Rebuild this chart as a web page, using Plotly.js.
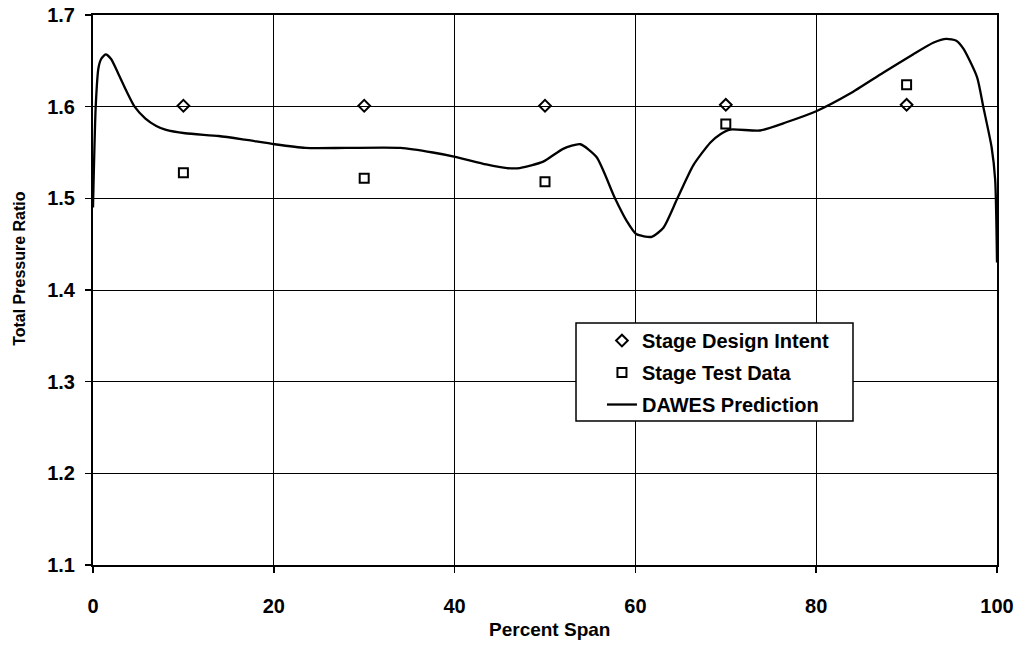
<!DOCTYPE html>
<html>
<head>
<meta charset="utf-8">
<script src="https://cdn.plot.ly/plotly-3.0.1.min.js"></script>
<style>html,body{margin:0;padding:0;background:#fff;}#chart{width:1023px;height:648px;}</style>
</head>
<body>
<div id="chart"></div>
<script>
// Stage design intent
const designSpan = [10, 30, 50, 70, 90];
const designRatio = [1.601, 1.601, 1.601, 1.602, 1.602];
// Stage test data
const testSpan = [10, 30, 50, 70, 90];
const testRatio = [1.528, 1.522, 1.518, 1.581, 1.624];
// DAWES prediction
const dawesSpan = [0, 0.3, 0.6, 0.9, 1.4, 2.0, 2.8, 3.7, 4.6, 5.8, 7.0, 8.0, 10.2, 13.9, 16.8, 20.1, 23.5, 28, 34, 37.6, 40.2, 43.5, 45.8, 47.2, 49.8, 52, 53.9, 55.7, 57.7, 59.0, 60.1, 61.8, 63.1, 64.6, 66.4, 68.3, 69.4, 70.5, 73.8, 76.7, 80, 83.7, 87.4, 90.7, 93, 94.4, 95.5, 96.3, 97.8, 98.5, 99.4, 99.8, 100];
const dawesRatio = [1.49, 1.60, 1.642, 1.652, 1.657, 1.652, 1.636, 1.617, 1.600, 1.587, 1.579, 1.575, 1.571, 1.568, 1.564, 1.559, 1.555, 1.555, 1.555, 1.550, 1.545, 1.537, 1.533, 1.533, 1.540, 1.554, 1.559, 1.545, 1.501, 1.476, 1.461, 1.458, 1.468, 1.499, 1.536, 1.561, 1.570, 1.575, 1.574, 1.583, 1.595, 1.614, 1.637, 1.657, 1.670, 1.674, 1.672, 1.663, 1.632, 1.599, 1.556, 1.520, 1.43];
const xTicks = [0, 20, 40, 60, 80, 100];
const yTicks = [1.1, 1.2, 1.3, 1.4, 1.5, 1.6, 1.7];

const FONT = 'Arial, "Liberation Sans", Helvetica, sans-serif';

const traces = [
  {x: designSpan, y: designRatio, name: 'Stage Design Intent', mode: 'markers', type: 'scatter', legendgroup: 'a',
   marker: {symbol: 'diamond-open', size: 9, color: '#000', line: {width: 2, color: '#000'}}},
  {x: testSpan, y: testRatio, name: 'Stage Test Data', mode: 'markers', type: 'scatter', legendgroup: 'b',
   marker: {symbol: 'square-open', size: 9, color: '#000', line: {width: 2, color: '#000'}}},
  {x: dawesSpan, y: dawesRatio, name: 'DAWES Prediction', mode: 'lines', type: 'scatter', legendgroup: 'c',
   line: {color: '#000', width: 2.3, shape: 'spline', smoothing: 0.6}}
];

const layout = {
  width: 1023, height: 648,
  margin: {l: 93, r: 26, t: 15, b: 83},
  paper_bgcolor: '#fff', plot_bgcolor: '#fff',
  font: {family: FONT, color: '#000', size: 19},
  showlegend: true,
  legend: {x: 0.563, y: 0.4436, xanchor: 'left', yanchor: 'top', bgcolor: 'rgba(0,0,0,0)',
           borderwidth: 0, tracegroupgap: 3, traceorder: 'grouped',
           font: {family: FONT, size: 20, color: '#000', weight: 'bold'}},
  shapes: [
    {type: 'rect', xref: 'paper', yref: 'paper', x0: 0.5343, x1: 0.8407, y0: 0.2618, y1: 0.44,
     line: {color: '#000', width: 1.5}, fillcolor: '#fff', layer: 'above'}
  ],
  xaxis: {range: [0, 100], tickvals: xTicks, ticktext: xTicks.map(String), showgrid: true, gridcolor: '#000', gridwidth: 1,
          zeroline: false, showline: true, linecolor: '#000', linewidth: 2, mirror: true,
          ticks: 'outside', ticklen: 6, tickcolor: '#000', tickwidth: 1.5, ticklabelstandoff: 16,
          tickfont: {family: FONT, size: 20, color: '#000', weight: 'bold'}},
  yaxis: {range: [1.1, 1.7], tickvals: yTicks, ticktext: yTicks.map(v => v.toFixed(1)), showgrid: true, gridcolor: '#000', gridwidth: 1,
          zeroline: false, showline: true, linecolor: '#000', linewidth: 2, mirror: true,
          ticks: 'outside', ticklen: 6, tickcolor: '#000', tickwidth: 1.5, ticklabelstandoff: 6,
          tickfont: {family: FONT, size: 20, color: '#000', weight: 'bold'}},
  annotations: [
    {text: 'Percent Span', xref: 'paper', yref: 'paper', x: 0.505, y: -0.118, xanchor: 'center', yanchor: 'middle',
     showarrow: false, font: {family: FONT, size: 19, color: '#000', weight: 'bold'}},
    {text: 'Total Pressure Ratio', xref: 'paper', yref: 'paper', x: -0.082, y: 0.54, xanchor: 'center', yanchor: 'middle',
     textangle: -90, showarrow: false, font: {family: FONT, size: 16, color: '#000', weight: 'bold'}}
  ]
};

Plotly.newPlot('chart', traces, layout, {displayModeBar: false, staticPlot: true});
</script>
</body>
</html>
